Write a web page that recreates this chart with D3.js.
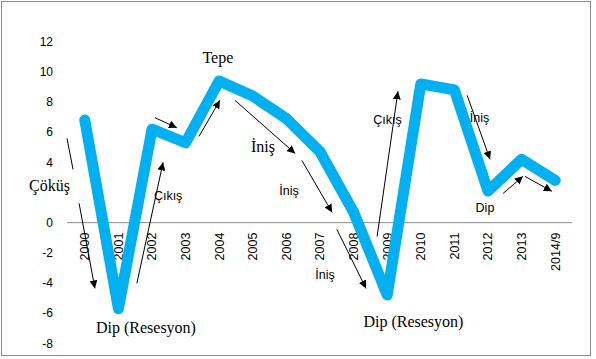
<!DOCTYPE html>
<html><head><meta charset="utf-8">
<script src="https://cdn.jsdelivr.net/npm/d3@7"></script>
<style>body{margin:0;background:#fff}svg{display:block}</style>
</head><body>
<svg id="c" width="596" height="359"></svg>
<script>
const categories = ["2000","2001","2002","2003","2004","2005","2006","2007","2008","2009","2010","2011","2012","2013","2014/9"];
const growth = [6.8,-5.7,6.2,5.3,9.4,8.4,6.9,4.7,0.7,-4.8,9.2,8.8,2.1,4.2,2.8];
// the "2" tick label is hidden behind the "Çöküş" label in the reference
const yTicks = [-8,-6,-4,-2,0,4,6,8,10,12];
// annotations in data space: xi = category index (fractional), v = value
const serifLabels = [
  {t:"Çöküş", xi:-1.05, v:2.47},
  {t:"Dip (Resesyon)", xi:1.82, v:-6.94},
  {t:"Tepe", xi:3.96, v:10.96},
  {t:"İniş", xi:5.30, v:5.06},
  {t:"Dip (Resesyon)", xi:9.78, v:-6.55}
];
const sansLabels = [
  {t:"Çıkış", xi:2.48, v:1.81},
  {t:"İniş", xi:6.08, v:2.14},
  {t:"İniş", xi:7.15, v:-3.43},
  {t:"Çıkış", xi:9.01, v:6.85},
  {t:"İniş", xi:11.75, v:6.98},
  {t:"Dip", xi:11.91, v:1.01}
];
const arrows = [
  {x1:-0.53,v1:5.59,x2:-0.35,v2:3.53,head:false},
  {x1:-0.17,v1:1.28,x2:0.30,v2:-4.36,head:true},
  {x1:1.55,v1:-4.02,x2:2.33,v2:4.0,head:true},
  {x1:2.09,v1:6.96,x2:2.74,v2:6.29,head:true},
  {x1:3.40,v1:5.72,x2:4.02,v2:8.11,head:true},
  {x1:4.47,v1:8.11,x2:6.26,v2:4.59,head:true},
  {x1:6.46,v1:4.13,x2:7.36,v2:0.68,head:true},
  {x1:7.50,v1:-0.44,x2:8.37,v2:-4.36,head:true},
  {x1:8.70,v1:-0.91,x2:9.32,v2:8.71,head:true},
  {x1:11.38,v1:8.44,x2:12.06,v2:4.20,head:true},
  {x1:12.45,v1:1.94,x2:13.04,v2:3.07,head:true},
  {x1:13.10,v1:3.07,x2:13.90,v2:2.08,head:true}
];

const svg = d3.select("#c");
const x = d3.scaleBand().domain(categories).range([68,572]);
const bw = x.bandwidth();
const xi = d3.scaleLinear().domain([0,categories.length-1])
  .range([x(categories[0])+bw/2, x(categories[categories.length-1])+bw/2]);
const y = d3.scaleLinear().domain([-8,12]).range([343.3,41.7]);

// border
svg.append("rect").attr("x",1.5).attr("y",1.5).attr("width",589).attr("height",354)
  .attr("fill","none").attr("stroke","#8c8c8c").attr("stroke-width",1);

// y tick labels
svg.append("g").selectAll("text").data(yTicks).join("text")
  .attr("x",53).attr("y",d=>y(d)).attr("dy","0.35em")
  .attr("text-anchor","end").attr("font-family","'Liberation Sans',Arial,sans-serif")
  .attr("font-size",12).attr("fill","#000").text(d=>d);

// zero line
svg.append("line").attr("x1",67).attr("x2",572).attr("y1",y(0)).attr("y2",y(0))
  .attr("stroke","#8c8c8c").attr("stroke-width",1);

// x labels
svg.append("g").selectAll("text").data(categories).join("text")
  .attr("transform",d=>`translate(${x(d)+bw/2},${y(0)+10}) rotate(-90)`)
  .attr("text-anchor","end").attr("dy","0.35em")
  .attr("font-family","'Liberation Sans',Arial,sans-serif").attr("font-size",12.5)
  .attr("fill","#000").text(d=>d);

// line
const line = d3.line().x((d,i)=>x(categories[i])+bw/2).y(d=>y(d));
svg.append("path").datum(growth).attr("d",line).attr("fill","none")
  .attr("stroke","#00b0f0").attr("stroke-width",11)
  .attr("stroke-linejoin","round").attr("stroke-linecap","round");

// arrow marker
svg.append("defs").append("marker").attr("id","ah")
  .attr("viewBox","0 0 10 10").attr("refX",10).attr("refY",5)
  .attr("markerWidth",8).attr("markerHeight",8).attr("markerUnits","userSpaceOnUse")
  .attr("orient","auto").append("path").attr("d","M0,0L10,5L0,10Z").attr("fill","#000");

svg.append("g").selectAll("line").data(arrows).join("line")
  .attr("x1",d=>xi(d.x1)).attr("y1",d=>y(d.v1)).attr("x2",d=>xi(d.x2)).attr("y2",d=>y(d.v2))
  .attr("stroke","#000").attr("stroke-width",1)
  .attr("marker-end",d=>d.head?"url(#ah)":null);

svg.append("g").selectAll("text").data(serifLabels).join("text")
  .attr("x",d=>xi(d.xi)).attr("y",d=>y(d.v)).attr("dy","0.35em").attr("text-anchor","middle")
  .attr("font-family","'Liberation Serif','Times New Roman',serif").attr("font-size",16)
  .attr("fill","#000").text(d=>d.t);

svg.append("g").selectAll("text").data(sansLabels).join("text")
  .attr("x",d=>xi(d.xi)).attr("y",d=>y(d.v)).attr("dy","0.35em").attr("text-anchor","middle")
  .attr("font-family","'Liberation Sans',Arial,sans-serif").attr("font-size",12.5)
  .attr("fill","#000").text(d=>d.t);
</script>
</body></html>
